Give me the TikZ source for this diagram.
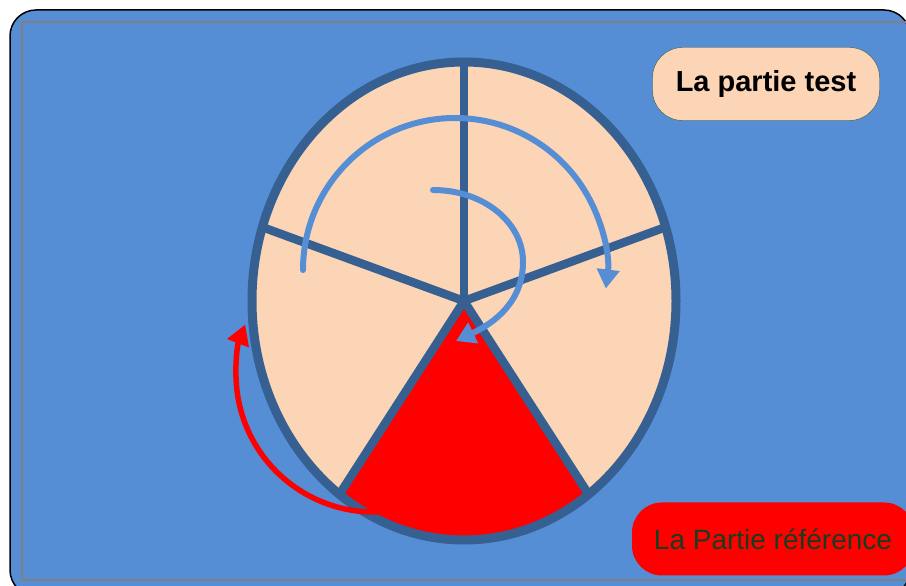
\documentclass[tikz,border=0pt]{standalone}
\usepackage{fontspec}
\setmainfont{Liberation Sans}
\usepackage{xcolor}
\definecolor{cBack}{HTML}{558ED5}
\definecolor{cRim}{HTML}{376092}
\definecolor{cPeach}{HTML}{FBD5B5}
\definecolor{cRed}{HTML}{FF0000}
\definecolor{cFrame}{HTML}{808080}
\definecolor{cEdge}{HTML}{3F5F3F}
\definecolor{cText}{HTML}{173D1F}
\usepackage{tikz}
\usetikzlibrary{arrows.meta}
\tikzset{
  wheel-rim/.style={draw=cRim,line width=9pt},
  wheel-spoke/.style={draw=cRim,line width=8.5pt,line cap=round},
  label-box/.style={rounded corners=30pt,minimum height=73pt,align=center,
    font=\fontsize{28}{32}\selectfont},
  arrow-turn/.style={-{Triangle[length=19pt,width=22pt]},line width=6pt,
    draw=cBack,line cap=round},
  arrow-back/.style={-{Triangle[length=20pt,width=22pt]},line width=5.5pt,
    draw=cRed,line cap=round},
}

\begin{document}
\begin{tikzpicture}[x=1pt,y=1pt]
  \useasboundingbox (0,0) rectangle (906,586);
  % fond et cadre
  \draw[fill=cBack,draw=black,line width=1.5pt,rounded corners=26pt] (10,-10) rectangle (910,576);
  \draw[cFrame,line width=2pt] (22,6) rectangle (912,564);
  % la roue
  \coordinate (C) at (464,285);
  \fill[cPeach] (C) ellipse [x radius=212pt,y radius=239pt];
  \fill[cRed] (C) -- ++(-126:212pt and 239pt)
    arc[start angle=-126,end angle=-54,x radius=212pt,y radius=239pt] -- cycle;
  \foreach \a in {90,18,-54,-126,162}
    \draw[wheel-spoke] (C) -- ++(\a:212pt and 239pt);
  \draw[wheel-rim] (C) ellipse [x radius=212pt,y radius=239pt];
  % rotations
  \draw[arrow-turn] (303,316) arc[start angle=180,end angle=-7,radius=152pt];
  \draw[arrow-turn] (433,396) .. controls (483,396) and (523,364) .. (523,324)
    .. controls (523,284) and (494,263) .. (456,245);
  \draw[arrow-back] (374,212) ++(276:138pt) arc[start angle=276,end angle=159,radius=138pt];
  % etiquettes
  \node[label-box,draw=cEdge,thin,fill=cPeach,minimum width=227pt,
    font=\fontsize{29}{32}\selectfont\bfseries] (test) at (766,502) {La partie test};
  \node[label-box,fill=cRed,text=cText,minimum width=282pt] (reference) at (773,47) {La Partie référence};
\end{tikzpicture}
\end{document}
